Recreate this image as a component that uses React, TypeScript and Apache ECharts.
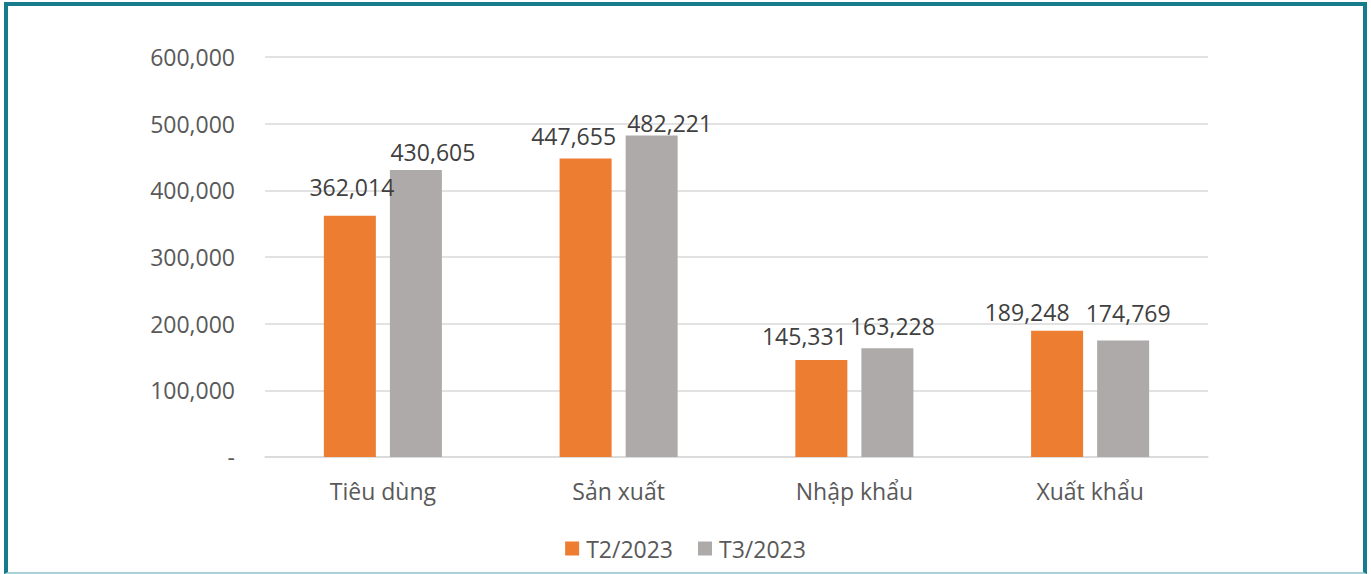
import React, { useEffect, useRef } from "react";
import * as echarts from "echarts";

const categories = ["Tiêu dùng", "Sản xuất", "Nhập khẩu", "Xuất khẩu"];
const seriesNames = ["T2/2023", "T3/2023"];
const valuesT2 = [362014, 447655, 145331, 189248];
const valuesT3 = [430605, 482221, 163228, 174769];
const yTicks = { min: 0, max: 600000, interval: 100000 };

// label nudges (dx, dy) to mimic the hand-placed labels of the original
const labelNudgeT2 = [[2, -12], [-12, -6], [-17, -8], [-30, -2]];
const labelNudgeT3 = [[17, -1], [18, 4], [5, -6], [5, -11]];

const FONT = "'Open Sans', 'Noto Sans', sans-serif";
const fmt = (v: number) => (v === 0 ? "-" : v.toLocaleString("en-US"));

export default function App() {
  const ref = useRef<HTMLDivElement>(null);
  useEffect(() => {
    if (!ref.current) return;
    const chart = echarts.init(ref.current, undefined, { renderer: "svg" });
    const mkData = (vals: number[], nudges: number[][]) =>
      vals.map((v, i) => ({ value: v, label: { offset: nudges[i] } }));
    const labelStyle = {
      show: true,
      position: "top" as const,
      distance: 5,
      color: "#404040",
      fontSize: 23,
      fontFamily: FONT,
      formatter: (p: any) => fmt(p.value),
    };
    chart.setOption({
      animation: false,
      backgroundColor: "transparent",
      textStyle: { fontFamily: FONT },
      grid: { left: 265, right: 163, top: 57, bottom: 117, containLabel: false },
      legend: {
        data: seriesNames,
        left: "center",
        top: 532,
        itemWidth: 14,
        itemHeight: 14,
        itemGap: 25,
        icon: "rect",
        textStyle: { color: "#595959", fontSize: 23, fontFamily: FONT, padding: [0, 0, 0, 2] },
      },
      xAxis: {
        type: "category",
        data: categories,
        axisLine: { lineStyle: { color: "#D9D9D9", width: 1.5 } },
        axisTick: { show: false },
        axisLabel: { color: "#595959", fontSize: 23, fontFamily: FONT, margin: 22 },
      },
      yAxis: {
        type: "value",
        min: yTicks.min,
        max: yTicks.max,
        interval: yTicks.interval,
        axisLine: { show: false },
        axisTick: { show: false },
        splitLine: { lineStyle: { color: "#D9D9D9", width: 1.5 } },
        axisLabel: {
          color: "#595959",
          fontSize: 23,
          fontFamily: FONT,
          margin: 30,
          formatter: (v: number) => fmt(v),
        },
      },
      series: [
        {
          name: seriesNames[0],
          type: "bar",
          barWidth: 52,
          barGap: "27%",
          itemStyle: { color: "#ED7D31" },
          label: labelStyle,
          data: mkData(valuesT2, labelNudgeT2),
        },
        {
          name: seriesNames[1],
          type: "bar",
          barWidth: 52,
          barGap: "27%",
          itemStyle: { color: "#AEAAAA" },
          label: labelStyle,
          data: mkData(valuesT3, labelNudgeT3),
        },
      ],
    });
    return () => chart.dispose();
  }, []);

  return (
    <div style={{ position: "fixed", left: 0, top: 0, width: 1371, height: 574, background: "#fff" }}>
      <div
        style={{
          position: "absolute",
          left: 4,
          top: 2,
          width: 1363,
          height: 572,
          boxSizing: "border-box",
          borderTop: "4px solid #167C8B",
          borderLeft: "4px solid #167C8B",
          borderRight: "4px solid #167C8B",
          borderBottom: "2px solid #A9D2D8",
        }}
      />
      <div ref={ref} style={{ position: "absolute", left: 0, top: 0, width: 1371, height: 574 }} />
    </div>
  );
}
